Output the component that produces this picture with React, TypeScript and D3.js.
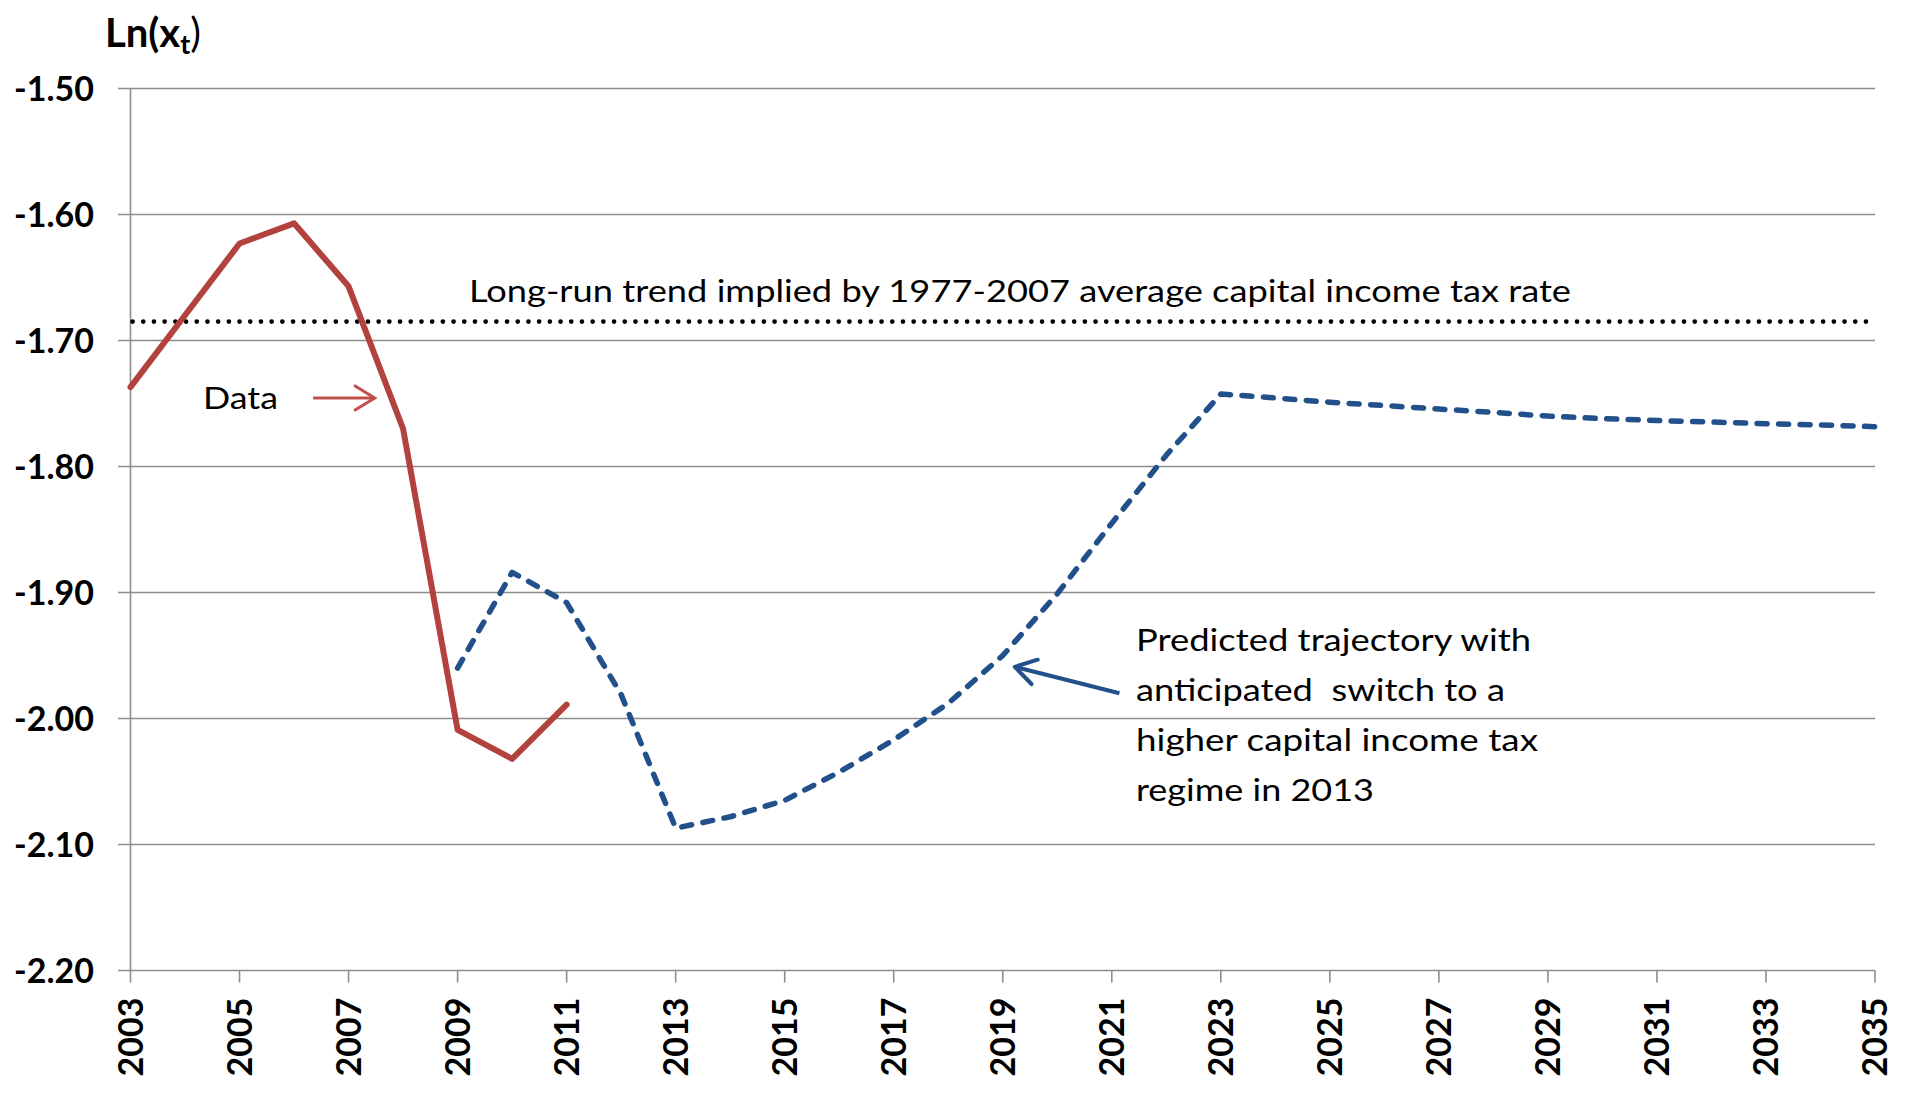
import React from "react";
import * as d3 from "d3";

const W = 1910;
const H = 1096;

const dataYears = [2003, 2004, 2005, 2006, 2007, 2008, 2009, 2010, 2011];
const dataValues = [-1.737, -1.68, -1.623, -1.607, -1.657, -1.77, -2.009, -2.032, -1.989];

const predYears = [
  2009, 2010, 2011, 2012, 2013, 2014, 2015, 2016, 2017, 2018, 2019, 2020, 2021, 2022,
  2023, 2024, 2025, 2026, 2027, 2028, 2029, 2030, 2031, 2032, 2033, 2034, 2035,
];
const predValues = [
  -1.96, -1.884, -1.908, -1.981, -2.087, -2.078, -2.065, -2.0425, -2.017, -1.988, -1.95,
  -1.901, -1.845, -1.791, -1.7425, -1.7456, -1.749, -1.7516, -1.7544, -1.757, -1.76,
  -1.762, -1.7635, -1.7647, -1.766, -1.767, -1.7684,
];

const longRunLevel = -1.685;

const yTicks = [-1.5, -1.6, -1.7, -1.8, -1.9, -2.0, -2.1, -2.2];
const xTicks = d3.range(2003, 2036, 2);

const longRunLabel = "Long-run trend implied by 1977-2007 average capital income tax rate";
const dataLabel = "Data";
const predLabel = [
  "Predicted trajectory with",
  "anticipated\u00a0 switch to a",
  "higher capital income tax",
  "regime in 2013",
];

export default function App() {
  const x = d3.scaleLinear().domain([2003, 2035]).range([130.5, 1875]);
  const y = d3.scaleLinear().domain([-2.2, -1.5]).range([970.5, 88.5]);

  const line = d3
    .line<[number, number]>()
    .x((d) => x(d[0]))
    .y((d) => y(d[1]));

  const dataPts: [number, number][] = dataYears.map((yr, i) => [yr, dataValues[i]]);
  const predPts: [number, number][] = predYears.map((yr, i) => [yr, predValues[i]]);

  const regFont = "Lato, 'Open Sans', sans-serif";
  const boldFont = "Lato, 'Liberation Sans', sans-serif";
  const grid = "#8d8d8d";
  const red = "#b2423e";
  const redArrow = "#c0504d";
  const blue = "#22508a";

  const fmt = (t: number) => t.toFixed(2);

  // annotation anchors (in data space)
  const redArrowFrom: [number, number] = [2006.35, -1.7456];
  const redArrowTo: [number, number] = [2007.48, -1.7456];
  const blueArrowFrom: [number, number] = [2021.14, -1.98];
  const blueArrowTo: [number, number] = [2019.22, -1.959];

  const arrowHead = (from: [number, number], to: [number, number], len: number, ang: number) => {
    const x1 = x(from[0]), y1 = y(from[1]), x2 = x(to[0]), y2 = y(to[1]);
    const a = Math.atan2(y2 - y1, x2 - x1);
    const p1 = [x2 - len * Math.cos(a - ang), y2 - len * Math.sin(a - ang)];
    const p2 = [x2 - len * Math.cos(a + ang), y2 - len * Math.sin(a + ang)];
    return `M${p1[0]},${p1[1]}L${x2},${y2}L${p2[0]},${p2[1]}`;
  };

  return (
    <svg
      width={W}
      height={H}
      style={{ position: "absolute", left: 0, top: 0, background: "#fff" }}
    >
      <rect x={0} y={0} width={W} height={H} fill="#fff" />
      {/* gridlines */}
      {yTicks.map((t) => (
        <line
          key={t}
          x1={118}
          x2={x(2035)}
          y1={y(t)}
          y2={y(t)}
          stroke={grid}
          strokeWidth={1.6}
        />
      ))}
      {/* left axis */}
      <line x1={x(2003)} x2={x(2003)} y1={y(-1.5)} y2={y(-2.2)} stroke={grid} strokeWidth={1.6} />
      {/* x ticks */}
      {xTicks.map((t) => (
        <line key={t} x1={x(t)} x2={x(t)} y1={y(-2.2)} y2={y(-2.2) + 12} stroke={grid} strokeWidth={1.6} />
      ))}
      {/* y labels */}
      {yTicks.map((t) => (
        <text
          key={t}
          x={94}
          y={y(t)}
          dy="0.36em"
          textAnchor="end"
          fontFamily={boldFont}
          fontWeight="bold"
          fontSize={34}
          fill="#000"
        >
          {fmt(t)}
        </text>
      ))}
      {/* x labels */}
      {xTicks.map((t) => (
        <text
          key={t}
          transform={`translate(${x(t)},${y(-2.2) + 27}) rotate(-90)`}
          dy="0.36em"
          textAnchor="end"
          fontFamily={boldFont}
          fontWeight="bold"
          fontSize={34}
          fill="#000"
        >
          {t}
        </text>
      ))}
      {/* y-axis title */}
      <text x={105} y={47} fontFamily={boldFont} fontSize={40} fill="#000">
        <tspan fontWeight="bold">Ln(x</tspan>
        <tspan fontWeight="bold" fontSize={27} dy={7}>t</tspan>
        <tspan fontWeight="normal" dy={-7}>)</tspan>
      </text>

      {/* long-run dotted line */}
      <line
        x1={x(2003) + 2}
        x2={x(2035)}
        y1={y(longRunLevel)}
        y2={y(longRunLevel)}
        stroke="#000"
        strokeWidth={4.6}
        strokeLinecap="round"
        strokeDasharray="0.1 10.6"
      />
      <text
        x={469}
        y={302}
        fontFamily={regFont}
        fontSize={31}
        fill="#000"
        textLength={1102}
        lengthAdjust="spacingAndGlyphs"
      >
        {longRunLabel}
      </text>

      {/* predicted dashed line */}
      <path
        d={line(predPts) || ""}
        fill="none"
        stroke={blue}
        strokeWidth={5.5}
        strokeDasharray="10 11.5"
        strokeLinecap="round"
        strokeLinejoin="round"
      />
      {/* data line */}
      <path
        d={line(dataPts) || ""}
        fill="none"
        stroke={red}
        strokeWidth={6}
        strokeLinejoin="round"
        strokeLinecap="round"
      />

      {/* Data annotation */}
      <text
        x={203}
        y={409}
        fontFamily={regFont}
        fontSize={31}
        fill="#000"
        textLength={75}
        lengthAdjust="spacingAndGlyphs"
      >
        {dataLabel}
      </text>
      <line
        x1={x(redArrowFrom[0])}
        y1={y(redArrowFrom[1])}
        x2={x(redArrowTo[0])}
        y2={y(redArrowTo[1])}
        stroke={redArrow}
        strokeWidth={3}
      />
      <path
        d={arrowHead(redArrowFrom, redArrowTo, 23, 0.55)}
        fill="none"
        stroke={redArrow}
        strokeWidth={3}
        strokeLinecap="round"
      />

      {/* Predicted annotation */}
      {predLabel.map((s, i) => (
        <text
          key={i}
          x={1136}
          y={651 + i * 50}
          fontFamily={regFont}
          fontSize={31}
          fill="#000"
          textLength={[395, 369, 402, 238][i]}
          lengthAdjust="spacingAndGlyphs"
          style={{ whiteSpace: "pre" }}
        >
          {s}
        </text>
      ))}
      <line
        x1={x(blueArrowFrom[0])}
        y1={y(blueArrowFrom[1])}
        x2={x(blueArrowTo[0])}
        y2={y(blueArrowTo[1])}
        stroke={blue}
        strokeWidth={4}
      />
      <path
        d={arrowHead(blueArrowFrom, blueArrowTo, 24, 0.55)}
        fill="none"
        stroke={blue}
        strokeWidth={4}
        strokeLinecap="round"
        strokeLinejoin="round"
      />
    </svg>
  );
}
